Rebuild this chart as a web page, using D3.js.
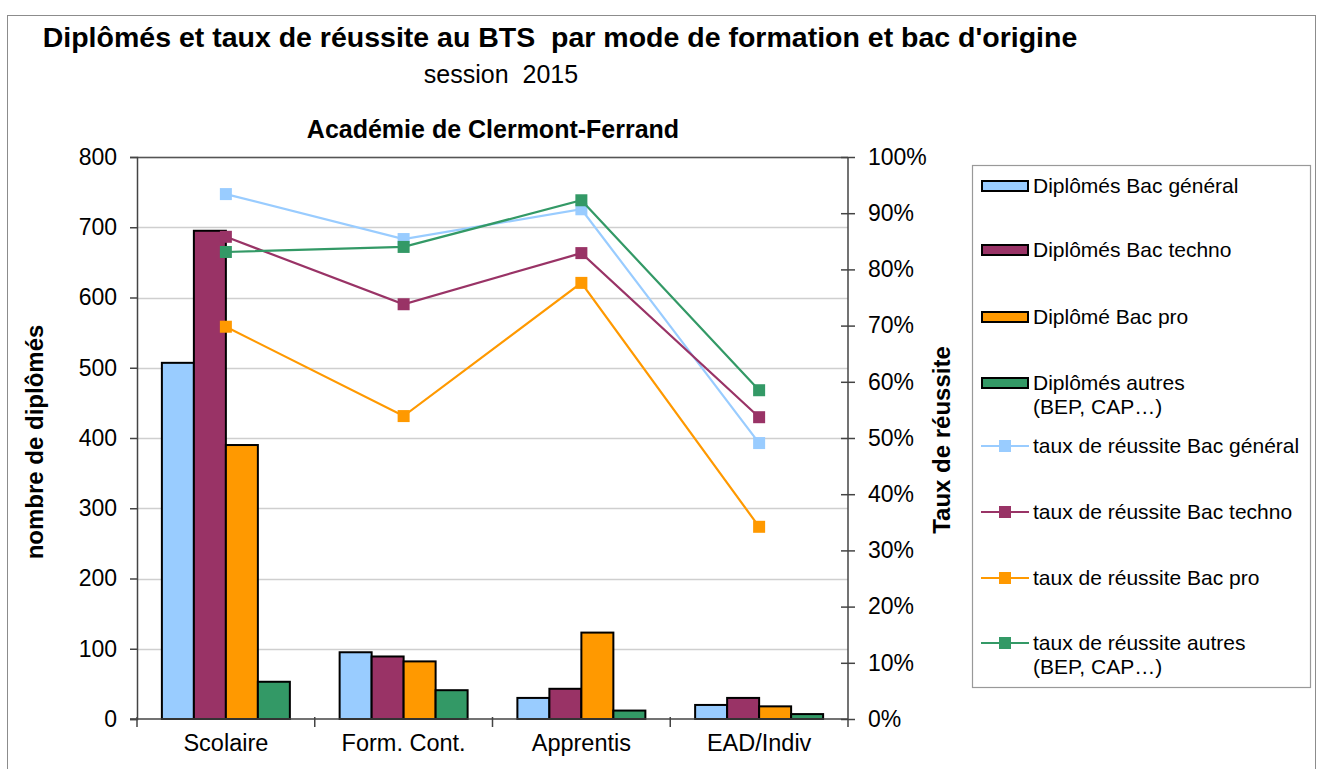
<!DOCTYPE html>
<html>
<head>
<meta charset="utf-8">
<script src="https://cdn.jsdelivr.net/npm/d3@7"></script>
<style>
  body { margin: 0; background: #fff; }
  svg text { font-family: "Liberation Sans", Arial, sans-serif; fill: #000; }
</style>
</head>
<body>
<svg id="chart"></svg>
<script>
'use strict';

var categories = ['Scolaire', 'Form. Cont.', 'Apprentis', 'EAD/Indiv'];
var barSeries = ['Diplômés Bac général', 'Diplômés Bac techno', 'Diplômé Bac pro', 'Diplômés autres (BEP, CAP…)'];
var lineSeries = ['taux de réussite Bac général', 'taux de réussite Bac techno', 'taux de réussite Bac pro', 'taux de réussite autres (BEP, CAP…)'];

var diplomesGeneral = [507, 95, 30, 20];
var diplomesTechno = [695, 89, 43, 30];
var diplomesPro = [390, 82, 123, 18];
var diplomesAutres = [53, 41, 12, 7];

var tauxGeneral = [0.934, 0.854, 0.907, 0.491];
var tauxTechno = [0.858, 0.738, 0.829, 0.537];
var tauxPro = [0.698, 0.539, 0.776, 0.342];
var tauxAutres = [0.831, 0.840, 0.923, 0.585];

var leftTicks = [0, 100, 200, 300, 400, 500, 600, 700, 800];
var rightTicks = [0, 0.1, 0.2, 0.3, 0.4, 0.5, 0.6, 0.7, 0.8, 0.9, 1];

var colors = ['#99ccff', '#993366', '#ff9900', '#339966'];

var svgWidth = 1322,
    svgHeight = 769,
    plot = { left: 137, right: 848, top: 157, bottom: 719 };

var svg = d3.select('#chart')
    .attr('width', svgWidth)
    .attr('height', svgHeight);

// outer frame
svg.append('rect')
    .attr('x', 7.5).attr('y', 15.5)
    .attr('width', 1308).attr('height', 770)
    .attr('fill', 'none').attr('stroke', '#8c8c8c').attr('stroke-width', 1);

// titles
svg.append('text')
    .attr('x', 560).attr('y', 47)
    .attr('text-anchor', 'middle')
    .style('white-space', 'pre')
    .style('font-size', '28.5px').style('font-weight', 'bold')
    .text('Diplômés et taux de réussite au BTS  par mode de formation et bac d\'origine');
svg.append('text')
    .attr('x', 501).attr('y', 83)
    .attr('text-anchor', 'middle')
    .style('white-space', 'pre')
    .style('font-size', '25px')
    .text('session  2015');
svg.append('text')
    .attr('x', 493).attr('y', 138)
    .attr('text-anchor', 'middle')
    .style('font-size', '25px').style('font-weight', 'bold')
    .text('Académie de Clermont-Ferrand');

var barData = [diplomesGeneral, diplomesTechno, diplomesPro, diplomesAutres];
var lineData = [tauxGeneral, tauxTechno, tauxPro, tauxAutres];

var x0 = d3.scaleBand().domain(categories).range([plot.left, plot.right]);
var bw = x0.bandwidth();
var x1 = d3.scaleBand().domain(d3.range(barSeries.length)).range([bw * 0.14, bw * 0.86]);
var yLeft = d3.scaleLinear().domain([0, 800]).range([plot.bottom, plot.top]);
var yRight = d3.scaleLinear().domain([0, 1]).range([plot.bottom, plot.top]);

// gridlines
svg.append('g').selectAll('line')
    .data(leftTicks.slice(1))
    .enter().append('line')
    .attr('x1', plot.left).attr('x2', plot.right)
    .attr('y1', function(d) { return Math.round(yLeft(d)) + 0.5; })
    .attr('y2', function(d) { return Math.round(yLeft(d)) + 0.5; })
    .attr('stroke', '#cfcfcf').attr('stroke-width', 1.5);

// top border of plot area
svg.append('line')
    .attr('x1', plot.left).attr('x2', plot.right)
    .attr('y1', plot.top + 0.5).attr('y2', plot.top + 0.5)
    .attr('stroke', '#555').attr('stroke-width', 1.5);

// bars
var groups = svg.append('g').selectAll('g')
    .data(categories)
    .enter().append('g')
    .attr('transform', function(d) { return 'translate(' + x0(d) + ',0)'; });

groups.selectAll('rect')
    .data(function(d, ci) { return barData.map(function(s, si) { return { si: si, v: s[ci] }; }); })
    .enter().append('rect')
    .attr('x', function(d) { return x1(d.si); })
    .attr('width', x1.bandwidth())
    .attr('y', function(d) { return yLeft(d.v); })
    .attr('height', function(d) { return plot.bottom - yLeft(d.v); })
    .attr('fill', function(d) { return colors[d.si]; })
    .attr('stroke', '#000').attr('stroke-width', 2);

// axes
var leftAxis = d3.axisLeft(yLeft).tickValues(leftTicks).tickSize(7).tickPadding(13);
svg.append('g').attr('transform', 'translate(' + plot.left + ',0)').call(leftAxis)
    .call(function(g) {
        g.selectAll('line, path').attr('stroke', '#444').attr('stroke-width', 1.5);
        g.selectAll('text').style('font-size', '23px').attr('fill', '#000');
    });

var rightAxis = d3.axisRight(yRight).tickValues(rightTicks).tickSize(7).tickPadding(13)
    .tickFormat(d3.format('.0%'));
svg.append('g').attr('transform', 'translate(' + plot.right + ',0)').call(rightAxis)
    .call(function(g) {
        g.select('path').remove();
        g.selectAll('.tick line').attr('x1', -7);
        g.selectAll('line').attr('stroke', '#444').attr('stroke-width', 1.5);
        g.selectAll('text').style('font-size', '23px').attr('fill', '#000');
    });
svg.append('line')
    .attr('x1', plot.right).attr('x2', plot.right)
    .attr('y1', plot.top).attr('y2', plot.bottom + 8)
    .attr('stroke', '#444').attr('stroke-width', 1.5);

var bottomAxis = d3.axisBottom(x0).tickSize(0).tickPadding(15);
svg.append('g').attr('transform', 'translate(0,' + plot.bottom + ')').call(bottomAxis)
    .call(function(g) {
        g.select('path').attr('d', 'M' + (plot.left - 7) + ',0H' + plot.right).attr('stroke', '#444').attr('stroke-width', 1.5);
        g.selectAll('text').style('font-size', '23.5px').attr('fill', '#000');
    });
svg.append('g').selectAll('line')
    .data(categories)
    .enter().append('line')
    .attr('x1', function(d) { return x0(d); })
    .attr('x2', function(d) { return x0(d); })
    .attr('y1', plot.bottom - 2).attr('y2', plot.bottom + 8)
    .attr('stroke', '#444').attr('stroke-width', 1.5);

// axis titles
svg.append('text')
    .attr('transform', 'translate(43,442) rotate(-90)')
    .attr('text-anchor', 'middle')
    .style('font-size', '24px').style('font-weight', 'bold')
    .text('nombre de diplômés');
svg.append('text')
    .attr('transform', 'translate(950,440) rotate(-90)')
    .attr('text-anchor', 'middle')
    .style('font-size', '24px').style('font-weight', 'bold')
    .text('Taux de réussite');

// lines
var line = d3.line()
    .x(function(d, i) { return x0(categories[i]) + bw / 2; })
    .y(function(d) { return yRight(d); });

lineData.forEach(function(s, si) {
    var g = svg.append('g');
    g.append('path')
        .attr('d', line(s))
        .attr('fill', 'none')
        .attr('stroke', colors[si])
        .attr('stroke-width', 2.2);
    g.selectAll('rect')
        .data(s)
        .enter().append('rect')
        .attr('x', function(d, i) { return x0(categories[i]) + bw / 2 - 6; })
        .attr('y', function(d) { return yRight(d) - 6; })
        .attr('width', 12).attr('height', 12)
        .attr('fill', colors[si]);
});

// legend
var legend = svg.append('g');
legend.append('rect')
    .attr('x', 972.5).attr('y', 165.5)
    .attr('width', 338).attr('height', 522)
    .attr('fill', '#fff').attr('stroke', '#999').attr('stroke-width', 1.2);

var legendRows = [186, 250, 317, 383, 446, 512, 578, 643];
var legendItems = barSeries.concat(lineSeries);

legendItems.forEach(function(name, i) {
    var cy = legendRows[i],
        color = colors[i % 4],
        item = legend.append('g');
    if (i < 4) {
        item.append('rect')
            .attr('x', 982).attr('y', cy - 5)
            .attr('width', 46).attr('height', 10)
            .attr('fill', color).attr('stroke', '#000').attr('stroke-width', 2);
    } else {
        item.append('line')
            .attr('x1', 981).attr('x2', 1029)
            .attr('y1', cy).attr('y2', cy)
            .attr('stroke', color).attr('stroke-width', 2);
        item.append('rect')
            .attr('x', 999).attr('y', cy - 6)
            .attr('width', 12).attr('height', 12)
            .attr('fill', color);
    }
    var parts = name.split(' (');
    var txt = item.append('text')
        .attr('x', 1033).attr('y', cy + 7)
        .style('font-size', '21px');
    txt.append('tspan').text(parts[0]);
    if (parts.length > 1) {
        txt.append('tspan').attr('x', 1033).attr('dy', 24).text('(' + parts[1]);
    }
});
</script>
</body>
</html>
